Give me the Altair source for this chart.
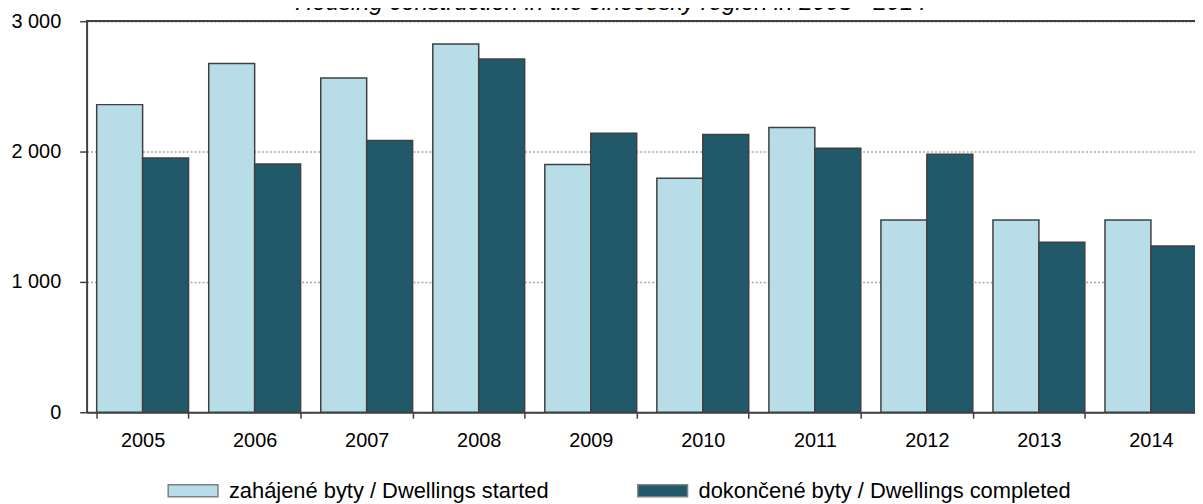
import altair as alt
import pandas as pd

years = ["2005", "2006", "2007", "2008", "2009", "2010", "2011", "2012", "2013", "2014"]
started = [2360, 2675, 2565, 2825, 1900, 1795, 2185, 1475, 1475, 1475]
completed = [1950, 1905, 2085, 2710, 2140, 2130, 2025, 1980, 1305, 1275]
series = ["zahájené byty / Dwellings started", "dokončené byty / Dwellings completed"]
colors = ["#B7DDE8", "#22596A"]
y_ticks = [0, 1000, 2000, 3000]
title_text = "Housing construction in the Jihočeský region in 2005 - 2014"

rows = []
for i, yr in enumerate(years):
    rows.append({"year": yr, "series": series[0], "value": started[i]})
    rows.append({"year": yr, "series": series[1], "value": completed[i]})
df = pd.DataFrame(rows)

FONT = "Liberation Sans"

bars = alt.Chart(df).mark_bar(stroke="#404040", strokeWidth=1.5).encode(
    x=alt.X("year:N", sort=years,
            scale=alt.Scale(range=[0, 1126], paddingInner=0.18, paddingOuter=0.09),
            axis=alt.Axis(title=None, labelAngle=0, tickBand="extent", tickSize=6,
                          tickColor="#404040", tickWidth=1.5, domainColor="#404040",
                          domainWidth=2, labelFontSize=20, labelFont=FONT,
                          labelColor="#000000", labelPadding=12, grid=False)),
    xOffset=alt.XOffset("series:N", sort=series, scale=alt.Scale(paddingInner=0, paddingOuter=0)),
    y=alt.Y("value:Q", scale=alt.Scale(domain=[0, 3000], nice=False),
            axis=alt.Axis(title=None, values=y_ticks, tickSize=7, tickColor="#404040",
                          tickWidth=1.5, domainColor="#404040", domainWidth=2,
                          labelFontSize=20, labelFont=FONT, labelColor="#000000",
                          labelPadding=19,
                          labelExpr="replace(format(datum.value, ','), ',', ' ')",
                          grid=True, gridColor="#a6a6a6", gridDash=[2, 2], gridWidth=1.5)),
    color=alt.Color("series:N", sort=series,
                    scale=alt.Scale(domain=series, range=colors),
                    legend=alt.Legend(title=None, orient="none", legendX=81, legendY=446,
                                      direction="horizontal",
                                      symbolType="M-1,-0.24H1V0.24H-1Z", symbolSize=2500,
                                      symbolStrokeColor="#808080", symbolStrokeWidth=1.5,
                                      labelFontSize=22, labelFont=FONT, labelColor="#000000",
                                      labelOffset=10, columnPadding=86, labelLimit=600)),
)

top_rule = alt.Chart(df).mark_rule(color="#404040", strokeWidth=1.5).encode(
    y=alt.datum(3000)
)

chart = alt.layer(bars, top_rule).properties(
    width=1114,
    height=393,
    padding={"left": 79, "top": 12, "right": 0, "bottom": 100},
    autosize=alt.AutoSizeParams(type="none"),
    title=alt.TitleParams(title_text, fontSize=24, font=FONT, fontStyle="italic",
                          fontWeight="normal", anchor="middle", dx=-30, dy=25,
                          color="#000000", baseline="alphabetic", offset=2),
).configure_view(stroke=None)

chart.save("out.html", embed_options={"renderer": "svg", "actions": False})
